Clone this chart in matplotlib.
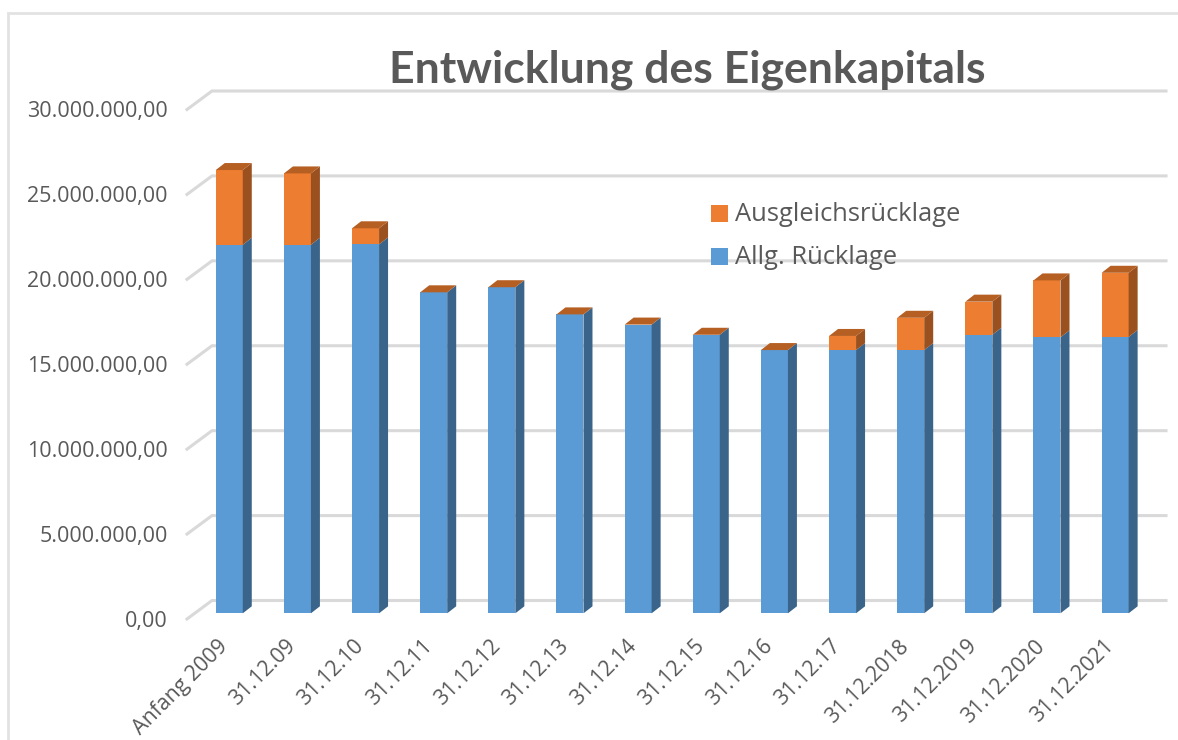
import matplotlib
matplotlib.use("Agg")
import matplotlib.pyplot as plt
from matplotlib.patches import Polygon, Rectangle
from matplotlib.lines import Line2D
from matplotlib.transforms import ScaledTranslation

categories = ["Anfang 2009", "31.12.09", "31.12.10", "31.12.11", "31.12.12", "31.12.13", "31.12.14",
              "31.12.15", "31.12.16", "31.12.17", "31.12.2018", "31.12.2019", "31.12.2020", "31.12.2021"]
allg_ruecklage = [21.7e6, 21.7e6, 21.72e6, 18.9e6, 19.2e6, 17.6e6, 17.0e6,
                  16.4e6, 15.5e6, 15.5e6, 15.5e6, 16.4e6, 16.25e6, 16.27e6]
ausgleich = [4.4e6, 4.2e6, 0.95e6, 0, 0, 0, 0, 0, 0, 0.83e6, 1.9e6, 1.95e6, 3.35e6, 3.78e6]
yticks = [0, 5e6, 10e6, 15e6, 20e6, 25e6, 30e6]
ylabels = ["0,00", "5.000.000,00", "10.000.000,00", "15.000.000,00", "20.000.000,00", "25.000.000,00", "30.000.000,00"]

W, H = 1178, 740
BLUE, BLUE_SIDE = "#5B9BD5", "#3A6489"
ORANGE, ORANGE_SIDE, ORANGE_TOP = "#ED7D31", "#9A511F", "#B65F23"
GRID, TEXT = "#D9D9D9", "#595959"

plt.rcParams["font.family"] = ["Open Sans", "DejaVu Sans"]
fig = plt.figure(figsize=(W / 100, H / 100), dpi=100, facecolor="white")

# axes = front plane of the 3D box, in pixels of the figure
L, R, Y0, Y30 = 187, 1141, 619, 109.5
ax = fig.add_axes([L / W, 1 - Y0 / H, (R - L) / W, (Y0 - Y30) / H])
step = (R - L) / len(categories)
ax.set_xlim(-0.5, len(categories) - 0.5)
ax.set_ylim(0, 30e6)
px_x = 1 / step
px_y = 30e6 / (Y0 - Y30)
ax.patch.set_alpha(0)
for s in ax.spines.values():
    s.set_visible(False)

# walls: back gridlines with diagonals on the side wall
back_dx, back_dy = 25 * px_x, 18.5 * px_y
for v in yticks:
    ax.plot([-0.5, -0.5 + back_dx, len(categories) - 0.5 + back_dx], [v, v + back_dy, v + back_dy],
            color=GRID, lw=2.2, clip_on=False, zorder=1, solid_joinstyle="miter")

# bars
off_x, off_y = 8.2 * px_x, 5.7 * px_y
dep_x, dep_y = 9 * px_x, 7 * px_y
bw = 27 * px_x
for i, (a, b) in enumerate(zip(allg_ruecklage, ausgleich)):
    xl, xr = i + off_x - bw / 2, i + off_x + bw / 2
    base = off_y
    top_a, top_b = base + a, base + a + b
    ax.bar(i + off_x, a, bw, bottom=base, color=BLUE, zorder=3)
    ax.add_patch(Polygon([(xr, base), (xr + dep_x, base + dep_y), (xr + dep_x, top_a + dep_y), (xr, top_a)],
                         closed=True, fc=BLUE_SIDE, ec="none", zorder=3))
    if b > 0:
        ax.bar(i + off_x, b, bw, bottom=top_a, color=ORANGE, zorder=3)
        ax.add_patch(Polygon([(xr, top_a), (xr + dep_x, top_a + dep_y), (xr + dep_x, top_b + dep_y), (xr, top_b)],
                             closed=True, fc=ORANGE_SIDE, ec="none", zorder=3))
    ax.add_patch(Polygon([(xl, top_b), (xr, top_b), (xr + dep_x, top_b + dep_y), (xl + dep_x, top_b + dep_y)],
                         closed=True, fc=ORANGE_TOP, ec="none", zorder=3))

# axis labels
ax.set_yticks(yticks, ylabels, fontsize=15.5, color=TEXT)
ax.tick_params(axis="y", length=0, pad=14)
ax.set_xticks(range(len(categories)))
ax.set_xticklabels(categories, rotation=45, ha="right", rotation_mode="anchor", fontsize=15.3, color=TEXT)
ax.tick_params(axis="x", length=0, pad=12)
shift = ScaledTranslation(-4 / 100, 0, fig.dpi_scale_trans)
for t in ax.get_xticklabels():
    t.set_transform(t.get_transform() + shift)

# title
fig.text(687.5 / W, 1 - 70 / H, "Entwicklung des Eigenkapitals", fontsize=32, fontweight="bold",
         color=TEXT, ha="center", va="center", family=["Lato", "DejaVu Sans"])

# legend
for y, color, label in [(213, ORANGE, "Ausgleichsrücklage"), (256, BLUE, "Allg. Rücklage")]:
    fig.add_artist(Rectangle((711 / W, 1 - (y + 8.5) / H), 17 / W, 17 / H, transform=fig.transFigure,
                             fc=color, ec="none", zorder=5))
    fig.text(735 / W, 1 - (y + 1.5) / H, label, fontsize=18.4, color=TEXT, ha="left", va="center", zorder=5)

# chart frame
fig.add_artist(Line2D([8 / W, 8 / W, 1], [0, 1 - 12.5 / H, 1 - 12.5 / H], transform=fig.transFigure,
                      color="#E2E2E2", lw=2, solid_joinstyle="miter"))

fig.savefig("out.png", dpi=100, facecolor="white")
